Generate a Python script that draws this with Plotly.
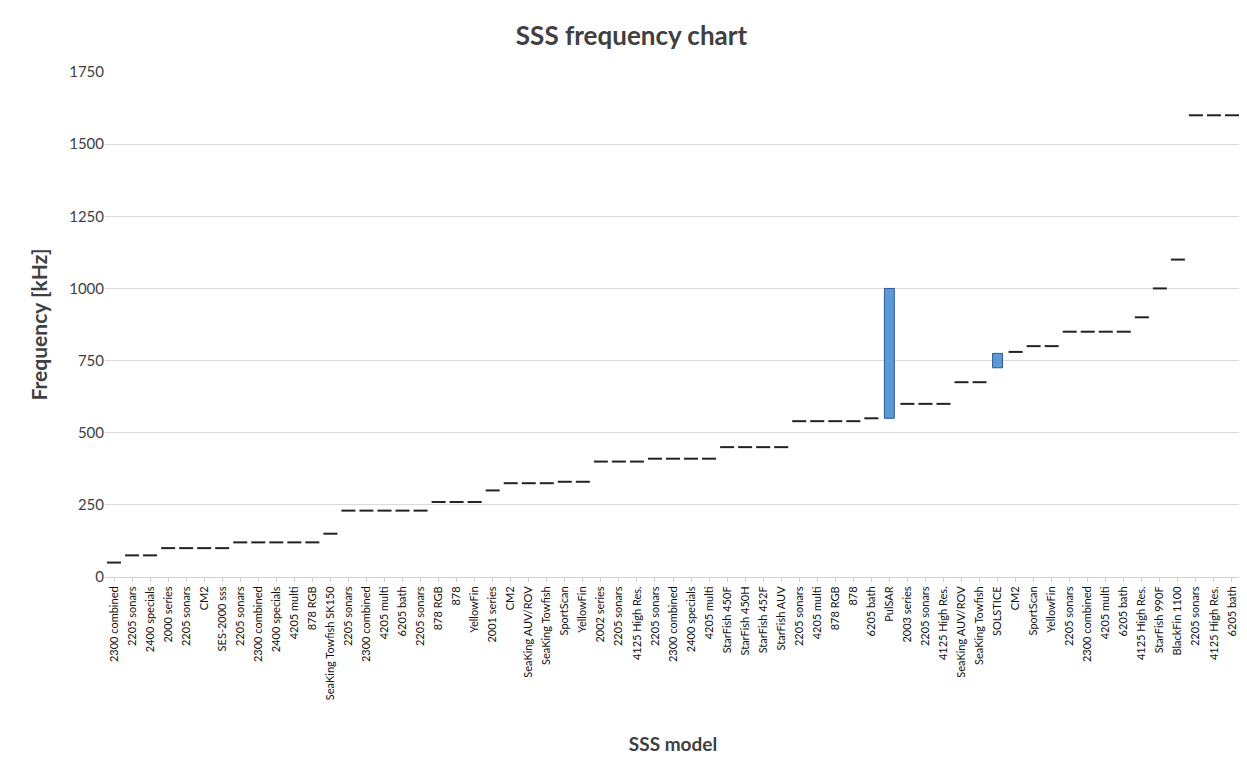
import plotly.graph_objects as go

models = ["2300 combined","2205 sonars","2400 specials","2000 series","2205 sonars","CM2","SES-2000 sss",
"2205 sonars","2300 combined","2400 specials","4205 multi","878 RGB","SeaKing Towfish SK150",
"2205 sonars","2300 combined","4205 multi","6205 bath","2205 sonars","878 RGB","878","YellowFin",
"2001 series","CM2","SeaKing AUV/ROV","SeaKing Towfish","SportScan","YellowFin","2002 series",
"2205 sonars","4125 High Res.","2205 sonars","2300 combined","2400 specials","4205 multi",
"StarFish 450F","StarFish 450H","StarFish 452F","StarFish AUV","2205 sonars","4205 multi","878 RGB",
"878","6205 bath","PulSAR","2003 series","2205 sonars","4125 High Res.","SeaKing AUV/ROV",
"SeaKing Towfish","SOLSTICE","CM2","SportScan","YellowFin","2205 sonars","2300 combined","4205 multi",
"6205 bath","4125 High Res.","StarFish 990F","BlackFin 1100","2205 sonars","4125 High Res.","6205 bath"]
freq_low = [50,75,75,100,100,100,100,120,120,120,120,120,150,230,230,230,230,230,260,260,260,
300,325,325,325,330,330,400,400,400,410,410,410,410,450,450,450,450,540,540,540,540,550,
550,600,600,600,675,675,725,780,800,800,850,850,850,850,900,1000,1100,1600,1600,1600]
freq_high = [50,75,75,100,100,100,100,120,120,120,120,120,150,230,230,230,230,230,260,260,260,
300,325,325,325,330,330,400,400,400,410,410,410,410,450,450,450,450,540,540,540,540,550,
1000,600,600,600,675,675,775,780,800,800,850,850,850,850,900,1000,1100,1600,1600,1600]

idx = list(range(len(models)))
rng_x = [i for i in idx if freq_high[i] > freq_low[i]]
pt_x = [i for i in idx if freq_high[i] == freq_low[i]]

fig = go.Figure()
fig.add_trace(go.Bar(x=rng_x, y=[freq_high[i]-freq_low[i] for i in rng_x],
                     base=[freq_low[i] for i in rng_x], width=0.55,
                     marker=dict(color="#5B9BD5", line=dict(color="#2F5597", width=1))))
fig.add_trace(go.Scatter(x=pt_x, y=[freq_low[i] for i in pt_x], mode="markers",
                         marker=dict(symbol="line-ew", size=10, line=dict(color="#222", width=2))))
fig.update_layout(
    width=1247, height=767, showlegend=False, plot_bgcolor="white", paper_bgcolor="white",
    font=dict(family="Lato", color="#404040"),
    margin=dict(l=97, r=14, t=64, b=198),
    title=dict(text="<b>SSS frequency chart</b>", x=0.5, xanchor="center", y=0.975,
               font=dict(size=26, color="#404040")),
    xaxis=dict(tickmode="array", tickvals=idx, ticktext=models, tickangle=-90,
               range=[-0.5, len(models)-0.5], tickfont=dict(size=11, color="#111"),
               showgrid=False, showline=True, linecolor="#d0d0d0", ticks="outside",
               tickcolor="#d0d0d0", ticklen=4,
               title=dict(text="<b>SSS model</b>", font=dict(size=19, color="#404040"), standoff=38)),
    yaxis=dict(range=[0, 1750], tick0=0, dtick=250, gridcolor="#d9d9d9", zeroline=False,
               tickfont=dict(size=15, color="#404040"),
               title=dict(text="<b>Frequency [kHz]</b>", font=dict(size=21, color="#404040"), standoff=15)),
)
fig.write_html("out.html")
